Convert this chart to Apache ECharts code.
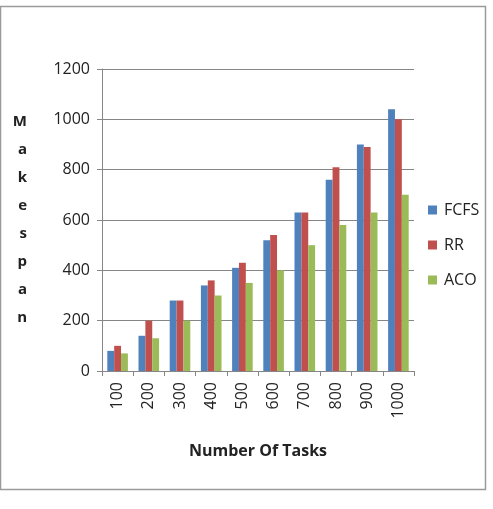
<!DOCTYPE html>
<html>
<head>
<meta charset="utf-8">
<script src="https://cdn.jsdelivr.net/npm/echarts@6/dist/echarts.min.js"></script>
<style>
  html, body { margin: 0; padding: 0; background: #fff; }
  #chart { width: 493px; height: 509px; }
</style>
</head>
<body>
<div id="chart"></div>
<script>
var tasks = ['100', '200', '300', '400', '500', '600', '700', '800', '900', '1000'];
var fcfs = [80, 140, 280, 340, 410, 520, 630, 760, 900, 1040];
var rr = [100, 200, 280, 360, 430, 540, 630, 810, 890, 1000];
var aco = [70, 130, 200, 300, 350, 400, 500, 580, 630, 700];
var seriesNames = ['FCFS', 'RR', 'ACO'];
var colors = ['#4F81BD', '#C0504D', '#9BBB59'];

var chart = echarts.init(document.getElementById('chart'));
var font = '"Open Sans", "Liberation Sans", sans-serif';

var option = {
    animation: false,
    color: colors,
    textStyle: { fontFamily: font },
    graphic: [{
        type: 'rect',
        shape: { x: 0.5, y: 6.5, width: 485, height: 483 },
        style: { fill: 'none', stroke: '#9a9a9a', lineWidth: 1.5 }
    }],
    grid: { left: 102, top: 69, width: 312, height: 302 },
    legend: {
        orient: 'vertical',
        left: 423,
        top: 197,
        itemWidth: 9,
        itemHeight: 9,
        itemGap: 19,
        icon: 'rect',
        textStyle: { fontSize: 16, color: '#222', fontFamily: font, padding: [0, 0, 0, 2] },
        data: seriesNames
    },
    xAxis: {
        type: 'category',
        data: tasks,
        name: 'Number Of Tasks',
        nameLocation: 'middle',
        nameGap: 72,
        nameTextStyle: { fontSize: 16, fontWeight: 'bold', color: '#222', fontFamily: font },
        axisLine: { lineStyle: { color: '#868686' } },
        axisTick: { show: true, length: 5, lineStyle: { color: '#868686' } },
        axisLabel: { rotate: 90, fontSize: 16, color: '#222', margin: 11 }
    },
    yAxis: {
        type: 'value',
        min: 0,
        max: 1200,
        interval: 200,
        name: 'M\na\nk\ne\ns\np\na\nn',
        nameLocation: 'middle',
        nameRotate: 0,
        nameGap: 75,
        nameTextStyle: { fontSize: 15, fontWeight: 'bold', color: '#222', lineHeight: 28, fontFamily: font, padding: [8, 0, 0, 0] },
        axisLine: { show: true, lineStyle: { color: '#868686' } },
        axisTick: { show: true, length: 5, lineStyle: { color: '#868686' } },
        axisLabel: { fontSize: 16, color: '#222', margin: 12, formatter: function (v) { return String(v); } },
        splitLine: { lineStyle: { color: '#868686' } }
    },
    series: [
        { name: 'FCFS', type: 'bar', data: fcfs, barGap: 0, barCategoryGap: '34%' },
        { name: 'RR', type: 'bar', data: rr, barGap: 0, barCategoryGap: '34%' },
        { name: 'ACO', type: 'bar', data: aco, barGap: 0, barCategoryGap: '34%' }
    ]
};
chart.setOption(option);
</script>
</body>
</html>
